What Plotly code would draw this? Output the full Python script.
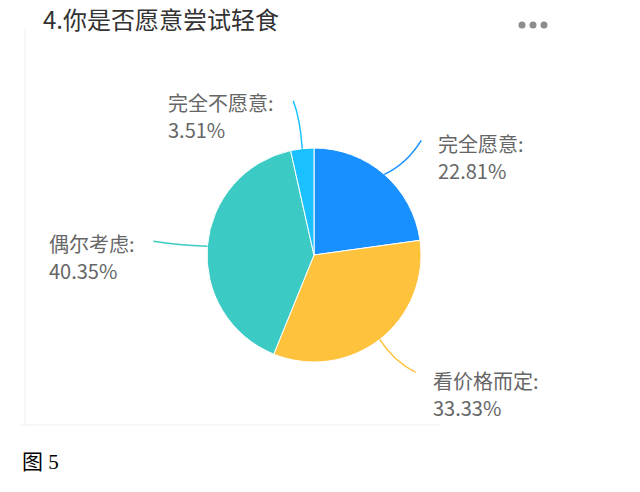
import math
import plotly.graph_objects as go

labels = ["完全愿意", "看价格而定", "偶尔考虑", "完全不愿意"]
values = [22.81, 33.33, 40.35, 3.51]
colors = ["#1890FF", "#FFC23D", "#3CCBC4", "#1AC0FF"]
title_text = "4.你是否愿意尝试轻食"
caption = "图 5"

W, H = 640, 492
cx, cy, R = 314, 255, 107  # target pixel center / radius (style)


def px(x):
    return x / W


def py(y):
    return 1 - y / H


fig = go.Figure(go.Pie(
    labels=labels, values=values, sort=False, direction="clockwise", rotation=0,
    marker=dict(colors=colors, line=dict(color="white", width=1)),
    textinfo="none", hoverinfo="label+percent", showlegend=False,
    domain=dict(x=[px(cx - R), px(cx + R)], y=[py(cy + R), py(cy - R)]),
))

# label offsets (style): end of leader line and text anchor, relative to edge point
label_style = [
    dict(end=(37, -34), ctrl=(22, -10), text=(437, 157)),
    dict(end=(36, 33), ctrl=(14, 22), text=(432, 394)),
    dict(end=(-54, -5), ctrl=(-30, -1), text=(48, 257)),
    dict(end=(-9, -48), ctrl=(-2, -30), text=(167, 116)),
]

total = sum(values)
cum = 0
shapes = []
annotations = []
lab_font = dict(family="Noto Sans CJK SC", size=20, color="#666666")
for lab, v, col, st in zip(labels, values, colors, label_style):
    mid = (cum + v / 2) / total * 2 * math.pi
    cum += v
    ex, ey = cx + R * math.sin(mid), cy - R * math.cos(mid)
    x2, y2 = ex + st["end"][0], ey + st["end"][1]
    qx, qy = ex + st["ctrl"][0], ey + st["ctrl"][1]
    path = f"M {px(ex)},{py(ey)} Q {px(qx)},{py(qy)} {px(x2)},{py(y2)}"
    shapes.append(dict(type="path", xref="paper", yref="paper", path=path,
                       line=dict(color=col, width=1.5)))
    pct = v / total * 100
    tx, ty = st["text"]
    for line_text, dy in ((f"{lab}:", -13.5), (f"{pct:.2f}%", 13.5)):
        annotations.append(dict(
            x=px(tx), y=py(ty + dy), xref="paper", yref="paper",
            xanchor="left", yanchor="middle", align="left", showarrow=False,
            borderpad=0, text=line_text, font=lab_font,
        ))

# card border
shapes.append(dict(type="line", xref="paper", yref="paper",
                   x0=px(25), x1=px(25), y0=py(28), y1=py(425),
                   line=dict(color="#F0F0F0", width=1)))
shapes.append(dict(type="line", xref="paper", yref="paper",
                   x0=px(20), x1=px(440), y0=py(425), y1=py(425),
                   line=dict(color="#F0F0F0", width=1)))
# menu dots
for dx in (522, 533, 544):
    shapes.append(dict(type="circle", xref="paper", yref="paper",
                       x0=px(dx - 3.5), x1=px(dx + 3.5), y0=py(25 + 3.5), y1=py(25 - 3.5),
                       fillcolor="#8C8C8C", line=dict(width=0)))

annotations.append(dict(x=px(42), y=py(19), xref="paper", yref="paper",
                        xanchor="left", yanchor="middle", showarrow=False, borderpad=0,
                        text=title_text,
                        font=dict(family="Noto Sans CJK SC", size=24, color="#333333")))
annotations.append(dict(x=px(20), y=py(462), xref="paper", yref="paper",
                        xanchor="left", yanchor="middle", showarrow=False,
                        text=caption,
                        font=dict(family="Liberation Serif, Noto Sans CJK SC", size=21, color="#000000")))

fig.update_layout(width=W, height=H, margin=dict(l=0, r=0, t=0, b=0),
                  paper_bgcolor="white", plot_bgcolor="white",
                  shapes=shapes, annotations=annotations)
fig.write_html("out.html", config={"displayModeBar": False},
               post_script="document.body.style.margin='0';document.body.style.overflow='hidden';")
